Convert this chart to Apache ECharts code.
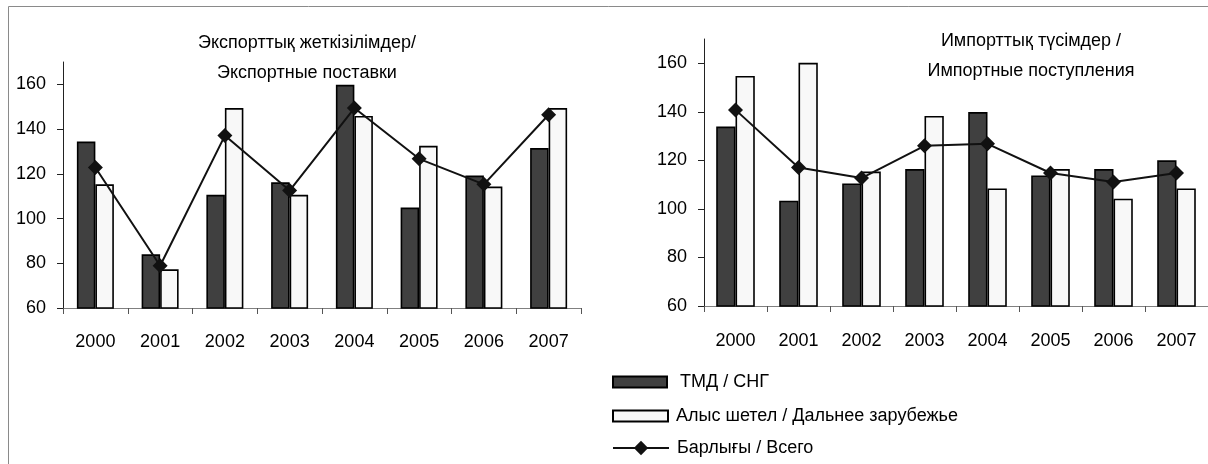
<!DOCTYPE html>
<html>
<head>
<meta charset="utf-8">
<script src="https://cdn.jsdelivr.net/npm/echarts@6/dist/echarts.min.js"></script>
<style>
  html, body { margin: 0; padding: 0; background: #fff; overflow: hidden; }
  #chart { width: 1208px; height: 464px; }
</style>
</head>
<body>
<div id="chart"></div>
<script>
// values
var years = ['2000', '2001', '2002', '2003', '2004', '2005', '2006', '2007'];
var yTicks = [60, 80, 100, 120, 140, 160];

var exportCis   = [134.4, 84.0, 110.6, 116.2, 159.8, 104.9, 119.2, 131.5];
var exportFar   = [115.3, 77.3, 149.4, 110.6, 145.9, 132.5, 114.3, 149.4];
var exportTotal = [122.8, 78.9, 137.1, 112.5, 149.4, 126.7, 115.3, 146.4];

var importCis   = [133.9, 103.4, 110.5, 116.4, 139.9, 113.8, 116.4, 120.0];
var importFar   = [154.8, 160.2, 115.4, 138.3, 108.4, 116.4, 104.2, 108.4];
var importTotal = [140.8, 117.1, 112.7, 126.0, 126.8, 114.8, 111.1, 114.8];

var nameCis = 'ТМД / СНГ';
var nameFar = 'Алыс шетел / Дальнее зарубежье';
var nameTotal = 'Барлығы / Всего';

var FONT = '"Liberation Sans", Arial, sans-serif';

var myChart = echarts.init(document.getElementById('chart'));

function xAxisFor(grid, margin) {
  return {
    type: 'category',
    gridIndex: grid,
    data: years,
    axisLine: { lineStyle: { color: '#808080', width: 1 } },
    axisTick: { show: true, interval: 0, length: 6, lineStyle: { color: '#555' } },
    axisLabel: { interval: 0, margin: margin, color: '#000', fontSize: 18, fontFamily: FONT }
  };
}

function yAxisFor(grid) {
  return {
    type: 'value',
    gridIndex: grid,
    min: 60,
    max: 170,
    interval: 20,
    axisLine: { show: true, lineStyle: { color: '#222', width: 1 } },
    axisTick: { show: true, length: 6, customValues: yTicks, lineStyle: { color: '#222' } },
    axisLabel: { customValues: yTicks, margin: 17, color: '#000', fontSize: 18, fontFamily: FONT },
    splitLine: { show: false }
  };
}

function barSeries(name, data, idx, color, width) {
  return {
    name: name,
    type: 'bar',
    xAxisIndex: idx,
    yAxisIndex: idx,
    data: data,
    barWidth: width,
    barGap: '0%',
    itemStyle: { color: color, borderColor: '#000', borderWidth: 1.6 },
    emphasis: { disabled: true }
  };
}

function lineSeries(data, idx) {
  return {
    name: nameTotal,
    type: 'line',
    xAxisIndex: idx,
    yAxisIndex: idx,
    data: data,
    symbol: 'diamond',
    symbolSize: 15,
    z: 5,
    lineStyle: { color: '#111', width: 2 },
    itemStyle: { color: '#111' },
    emphasis: { disabled: true }
  };
}

function legendFor(name, top, w, h, pad, icon) {
  var lg = {
    data: [name],
    left: 612,
    top: top,
    orient: 'vertical',
    padding: 0,
    itemWidth: w,
    itemHeight: h,
    selectedMode: false,
    textStyle: { color: '#000', fontSize: 18, fontFamily: FONT, lineHeight: 20, padding: [0, 0, 0, pad] }
  };
  if (icon) lg.icon = icon;
  return lg;
}

var option = {
  animation: false,
  backgroundColor: '#fff',
  grid: [
    { left: 63, top: 62, width: 518, height: 246 },
    { left: 704, top: 39, width: 506, height: 267 }
  ],
  xAxis: [xAxisFor(0, 25), xAxisFor(1, 26)],
  yAxis: [yAxisFor(0), yAxisFor(1)],
  legend: [
    legendFor(nameCis, 372, 54, 11, 8, 'rect'),
    legendFor(nameFar, 406, 55, 11, 3, 'rect'),
    legendFor(nameTotal, 438, 56, 18, 3)
  ],
  graphic: [
    { type: 'rect', shape: { x: 8.5, y: 6.5, width: 1300, height: 600 },
      style: { fill: 'none', stroke: '#8a8a8a', lineWidth: 1 }, silent: true },
    { type: 'text', x: 307, y: 43, style: { text: 'Экспорттық жеткізілімдер/', font: '18px ' + FONT, fill: '#000', align: 'center', verticalAlign: 'middle' } },
    { type: 'text', x: 307, y: 73, style: { text: 'Экспортные поставки', font: '18px ' + FONT, fill: '#000', align: 'center', verticalAlign: 'middle' } },
    { type: 'text', x: 1031, y: 41, style: { text: 'Импорттық түсімдер /', font: '18px ' + FONT, fill: '#000', align: 'center', verticalAlign: 'middle' } },
    { type: 'text', x: 1031, y: 71, style: { text: 'Импортные поступления', font: '18px ' + FONT, fill: '#000', align: 'center', verticalAlign: 'middle' } }
  ],
  series: [
    barSeries(nameCis, exportCis, 0, '#404040', 18.5),
    barSeries(nameFar, exportFar, 0, '#f8f8f8', 18.5),
    lineSeries(exportTotal, 0),
    barSeries(nameCis, importCis, 1, '#404040', 19.3),
    barSeries(nameFar, importFar, 1, '#f8f8f8', 19.3),
    lineSeries(importTotal, 1)
  ]
};

option && myChart.setOption(option);
</script>
</body>
</html>
